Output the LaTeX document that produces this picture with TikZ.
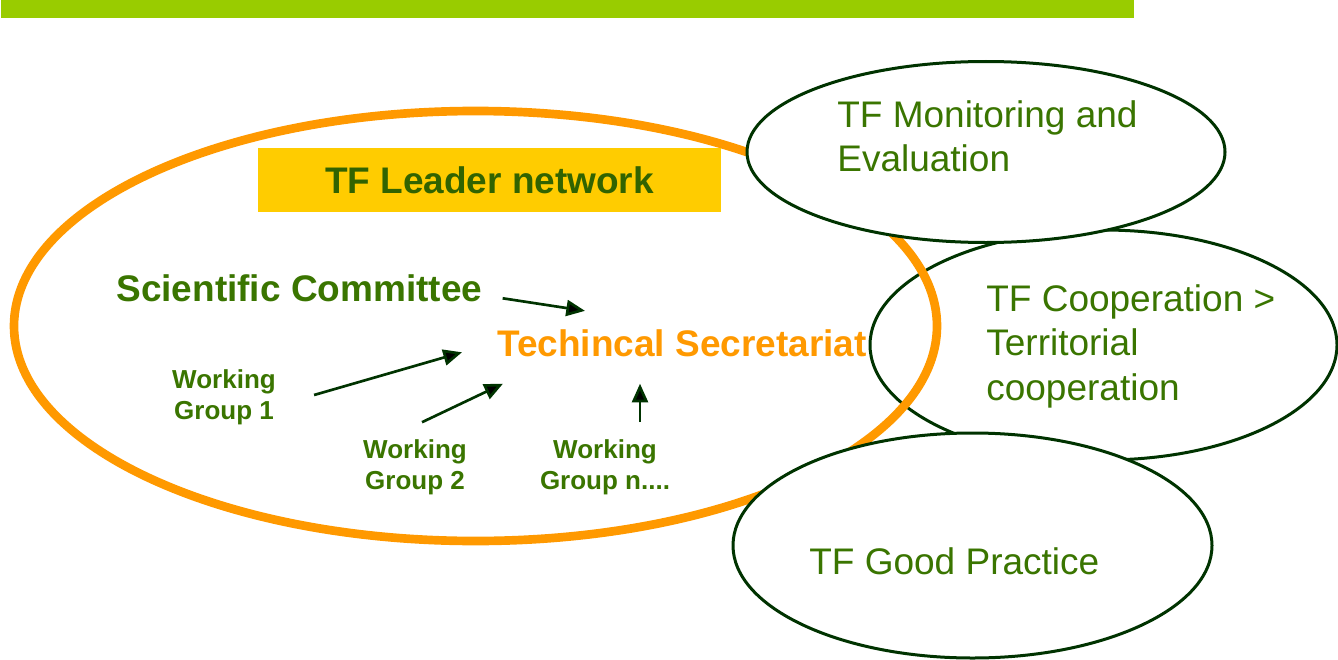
\documentclass[tikz,border=0pt]{standalone}
\usepackage{fontspec}
\setmainfont{Liberation Sans}
\usetikzlibrary{positioning,shapes.geometric,arrows.meta}
\definecolor{tfgreen}{HTML}{3A7500}
\definecolor{darkline}{HTML}{003300}
\definecolor{tforange}{HTML}{FF9900}
\definecolor{tfyellow}{HTML}{FFCC00}
\definecolor{bargreen}{HTML}{99CC00}
\tikzset{task ellipse/.style={ellipse, draw=darkline, line width=2.25pt, fill=white, inner sep=0pt},
  task text/.style={text=tfgreen, font=\fontsize{27.75}{33.5}\selectfont, align=left, inner sep=0pt},
  main label/.style={text=tfgreen, font=\bfseries\fontsize{27.75}{33}\selectfont, inner sep=0pt},
  group node/.style={text=tfgreen, font=\bfseries\fontsize{19.5}{23}\selectfont, align=center, inner sep=0pt},
  leader box/.style={fill=tfyellow, minimum width=347.25pt, minimum height=48pt, inner sep=0pt},}

\begin{document}
\begin{tikzpicture}[x=0.75pt, y=-0.75pt, >={Triangle[length=14pt,width=12pt]}, line width=2pt]
        \useasboundingbox (0,0) rectangle (1338,660);
        % Frame
        \node[fill=bargreen, minimum width=849.75pt, minimum height=40pt, inner sep=0pt, anchor=south west] (bar) at (0,19) {};
        \node[task ellipse, minimum width=350.25pt, minimum height=172.5pt] (coop) at (1103.5,345) {};
        \node[ellipse, draw=tforange, line width=6.5pt, minimum width=692.25pt, minimum height=322.5pt, inner sep=0pt] (leader) at (475.5,326) {};
        \node[task ellipse, minimum width=358.5pt, minimum height=135.75pt] (monitor) at (986,152) {};
        \node[task ellipse, minimum width=359.25pt, minimum height=168.75pt] (good) at (972.5,545.5) {};
        % Nodes
        \node[leader box, main label, text=tfgreen!85!black] (box) at (489.5,180) {TF Leader network};
        \node[task text, anchor=north west] (monitortxt) at (836,99) {TF Monitoring and\\Evaluation};
        \node[task text, anchor=north west] (cooptxt) at (985,283) {TF Cooperation >\\Territorial\\cooperation};
        \node[task text, anchor=base west] (goodtxt) at (808,574) {TF Good Practice};
        \node[main label, anchor=base west] (sci) at (115,301) {Scientific Committee};
        \node[main label, text=tforange, anchor=base west] (tech) at (496,356) {Techincal Secretariat};
        \node[group node] (wg1) at (224,397) {Working\\Group 1};
        \node[group node] (wg2) at (415,467) {Working\\Group 2};
        \node[group node] (wgn) at (605,467) {Working\\Group n....};
        % Paths
        \path[draw=darkline]
        ([shift={(19,10.5)}]sci.east) edge[->] ([shift={(89,-17)}]tech.north west)
        ([shift={(37,-2)}]wg1.east) edge[->] ([shift={(-34,9.5)}]tech.west)
        ([shift={(7,-16)}]wg2.north) edge[->] ([shift={(7,26)}]tech.south west)
        ([shift={(35,-16)}]wgn.north) edge[->] ([shift={(144,26)}]tech.south west);
    \end{tikzpicture}
\end{document}
